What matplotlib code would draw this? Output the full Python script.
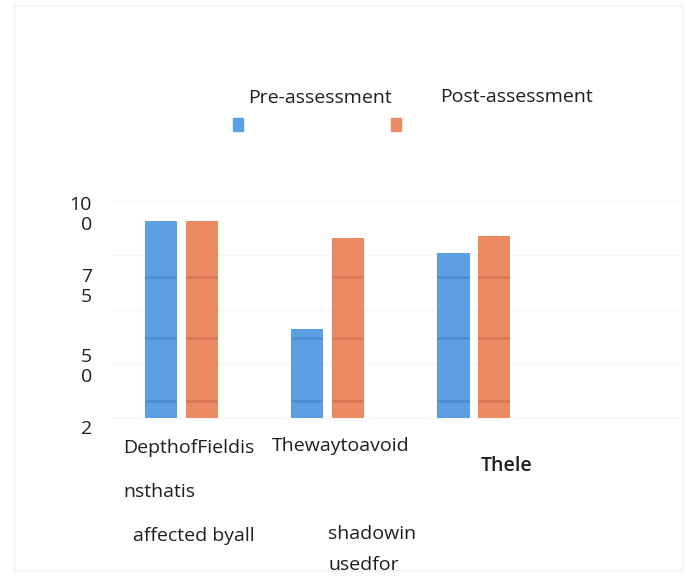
import numpy as np
from matplotlib import pyplot as plt
from matplotlib.patches import Rectangle

categories = ['DepthofFieldis\n\nnsthatis\n\n affected byall', 'Thewaytoavoid', 'Thele']
pre_values = [91, 41, 76]
post_values = [91, 83, 84]
series_names = ['Pre-assessment', 'Post-assessment']
ytick_positions = [95, 62, 25, -4]
ytick_labels = ['10\n0', '7\n5', '5\n0', '2']
stripe_levels = [7, 36, 64]

blue = '#5BA0E2'
orange = '#EC8A63'
blue_dark = '#4C90D2'
orange_dark = '#DC7A58'
txt = '#1e1e1e'
fs = 14

plt.rcParams['font.family'] = ['Open Sans', 'DejaVu Sans']

fig = plt.figure(figsize=(6.94, 5.79), dpi=100)
ax = fig.add_axes([110 / 694, 1 - 440 / 579, 570 / 694, 240 / 579])

x = np.arange(len(categories))
width = 0.22
offset = 0.14
ax.bar(x - offset, pre_values, width, color=blue, zorder=2)
ax.bar(x + offset, post_values, width, color=orange, zorder=2)

# darker scan bands across the bars
for lvl in stripe_levels:
    for xi, pv, qv in zip(x, pre_values, post_values):
        if pv > lvl + 2:
            ax.bar(xi - offset, 1.3, width, bottom=lvl, color=blue_dark, zorder=3)
        if qv > lvl + 2:
            ax.bar(xi + offset, 1.3, width, bottom=lvl, color=orange_dark, zorder=3)

ax.set_xlim(-0.49, 3.41)
ax.set_ylim(-10, 100.5)
for g in [0, 25, 50, 75, 100]:
    ax.axhline(g, color='#f6f6f6', lw=1, zorder=1)

ax.set_yticks(ytick_positions)
ax.set_yticklabels(ytick_labels, fontsize=fs, linespacing=1.15, color=txt)
ax.tick_params(axis='y', length=0, pad=13)
ax.set_xticks([])
for s in ax.spines.values():
    s.set_visible(False)

# category labels
fig.text(123 / 694, 1 - 448 / 579, 'DepthofFieldis', fontsize=fs, va='center', color=txt)
fig.text(123 / 694, 1 - 492 / 579, 'nsthatis', fontsize=fs, va='center', color=txt)
fig.text(133 / 694, 1 - 536 / 579, 'affected byall', fontsize=fs, va='center', color=txt)
fig.text(272 / 694, 1 - 446 / 579, 'Thewaytoavoid', fontsize=fs, va='center', color=txt)
fig.text(328 / 694, 1 - 534 / 579, 'shadowin', fontsize=fs, va='center', color=txt)
fig.text(328 / 694, 1 - 565 / 579, 'usedfor', fontsize=fs, va='center', color=txt)
fig.text(481 / 694, 1 - 466 / 579, categories[2], fontsize=fs, va='center', color=txt,
         fontweight='semibold')

# legend, laid out as in the scan
fig.text(248 / 694, 1 - 98 / 579, series_names[0], fontsize=fs, va='center', color=txt)
fig.text(440 / 694, 1 - 97 / 579, series_names[1], fontsize=fs, va='center', color=txt)
fig.patches.append(Rectangle((233 / 694, 1 - 131 / 579), 10 / 694, 13 / 579,
                             transform=fig.transFigure, color=blue, figure=fig))
fig.patches.append(Rectangle((391 / 694, 1 - 131 / 579), 10 / 694, 13 / 579,
                             transform=fig.transFigure, color=orange, figure=fig))

# faint border of the scanned page
fig.patches.append(Rectangle((15 / 694, 8 / 579), 668 / 694, 565 / 579, transform=fig.transFigure,
                             fill=False, edgecolor='#f5f5f5', lw=1.5, figure=fig))

fig.savefig('out.png', dpi=100)
